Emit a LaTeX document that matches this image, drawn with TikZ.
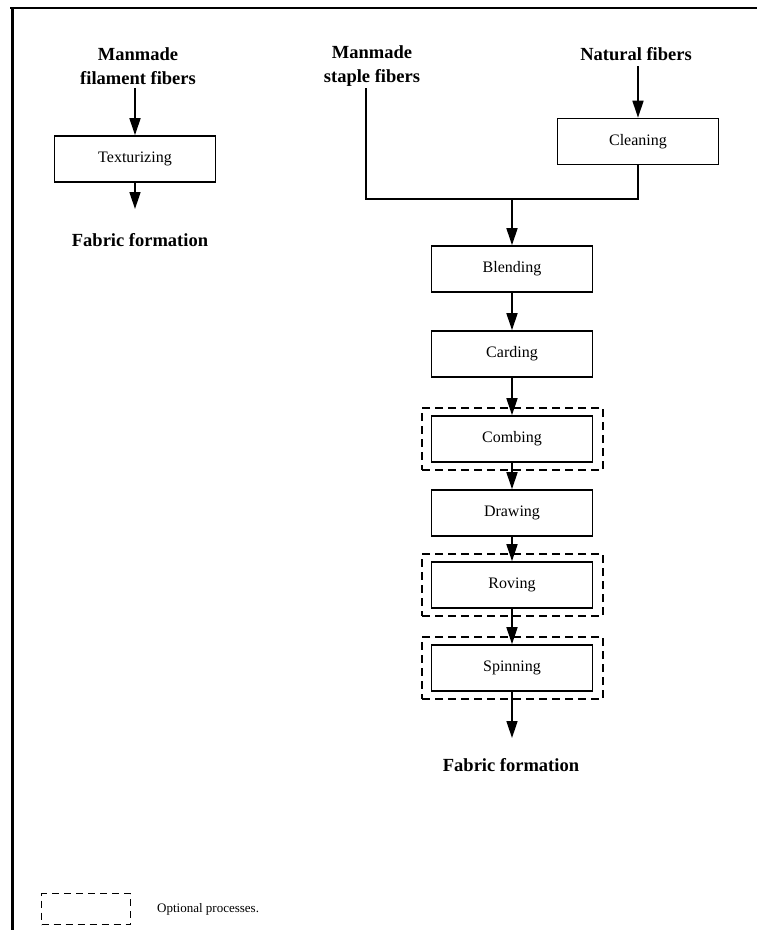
\documentclass[tikz,border=0pt]{standalone}
\usepackage{fontspec}
\setmainfont{Liberation Serif}
\usetikzlibrary{arrows.meta,positioning}
\begin{document}
\begin{tikzpicture}[x=1pt,y=-1pt,
  procbox/.style={draw,line width=1.6pt,minimum width=161pt,minimum height=46pt,inner sep=0pt,font=\fontsize{16}{18}\selectfont},
  optbox/.style={draw,dashed,dash pattern=on 8pt off 5pt,line width=1.4pt,minimum width=181pt,minimum height=62pt,inner sep=0pt},
  lbl/.style={font=\bfseries\fontsize{18.5}{24}\selectfont,align=center,inner sep=0pt},
  flow/.style={line width=1.5pt,-{Triangle[length=17pt,width=11pt]}},
  plain/.style={line width=1.5pt}]
\useasboundingbox (0,0) rectangle (757,930);
% frame
\draw[line width=2.5pt] (10,8) -- (757,8);
\draw[line width=3pt] (12,7) -- (12,930);
% left column
\node[lbl] (mf) at (138,66) {Manmade\\filament fibers};
\coordinate (mfs) at (135,88);
\node[procbox] (tex) at (135,159) {Texturizing};
\draw[flow] (mfs) -- (tex.north);
\node[lbl] (ff1) at (140,240) {Fabric formation};
\coordinate (tend) at (135,209);
\draw[flow] (tex.south) -- (tend);
% right top
\node[lbl] (ms) at (372,66) {Manmade\\staple fibers};
\coordinate (mss) at (366,88);
\node[lbl] (nf) at (636,54) {Natural fibers};
\coordinate (nfs) at (638,66);
\node[procbox] (cln) at (638,141.5) {Cleaning};
\draw[flow] (nfs) -- (cln.north);
\coordinate (jl) at (366,199);
\coordinate (jr) at (638,199);
\coordinate (jm) at (512,199);
\draw[plain] (mss) -- (jl) -- (jr) -- (cln.south);
% main chain
\node[procbox] (bl) at (512,269) {Blending};
\node[procbox] (ca) at (512,354) {Carding};
\node[procbox] (co) at (512,439) {Combing};
\node[optbox] (coo) at (512.5,439) {};
\node[procbox] (dr) at (512,513) {Drawing};
\node[procbox] (ro) at (512,585) {Roving};
\node[optbox] (roo) at (512.5,585) {};
\node[procbox] (sp) at (512,668) {Spinning};
\node[optbox] (spo) at (512.5,668) {};
\coordinate (send) at (512,738);
\node[lbl] (ff2) at (511,765) {Fabric formation};
\draw[flow] (jm) -- (bl.north);
\draw[flow] (bl.south) -- (ca.north);
\draw[flow] (ca.south) -- (co.north);
\draw[flow] (co.south) -- (dr.north);
\draw[flow] (dr.south) -- (ro.north);
\draw[flow] (ro.south) -- (sp.north);
\draw[flow] (sp.south) -- (send);
% legend
\node[draw,dashed,dash pattern=on 7pt off 5pt,line width=1.3pt,minimum width=89pt,minimum height=31pt,inner sep=0pt] (leg) at (86,909) {};
\node[anchor=west,font=\fontsize{13}{15}\selectfont,inner sep=0pt] (legt) at (157,909) {Optional processes.};
\end{tikzpicture}
\end{document}
